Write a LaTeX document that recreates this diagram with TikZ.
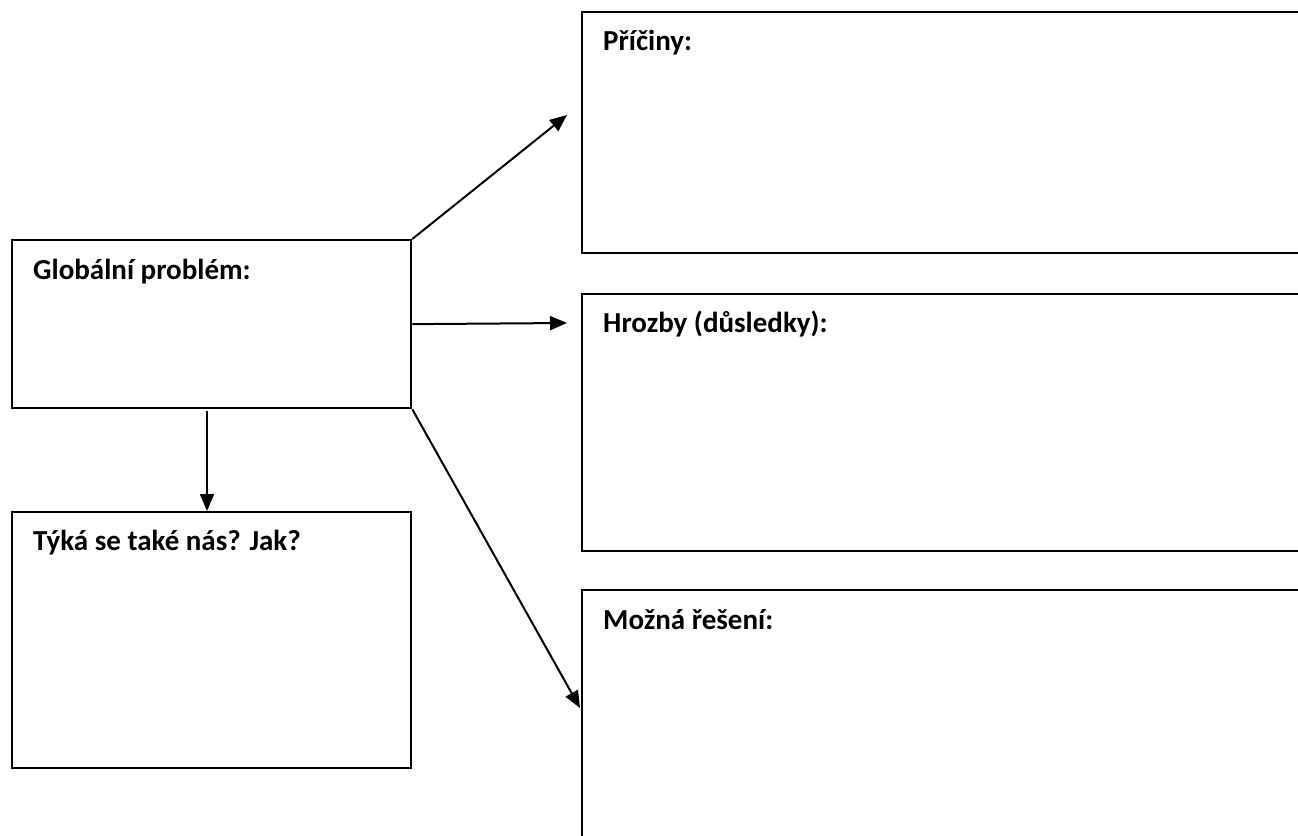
\documentclass[tikz,border=0pt]{standalone}
\usepackage{fontspec}
\setmainfont{Carlito}
\usetikzlibrary{arrows.meta}
\begin{document}
\begin{tikzpicture}[x=1bp,y=-1bp,
  box/.style={draw=black, line width=2.3bp, rectangle, anchor=north west, inner sep=0pt},
  lbl/.style={anchor=base west, inner sep=0pt, font=\fontsize{29bp}{34bp}\selectfont\bfseries},
  conn/.style={line width=2bp, -{Triangle[length=17bp,width=14bp]}}]
\useasboundingbox (0,0) rectangle (1298,836);
\clip (0,0) rectangle (1298,836);
\fill[white] (0,0) rectangle (1298,836);
% left boxes
\node[box, minimum width=399bp, minimum height=168bp] (g) at (11,239) {};
\node[box, minimum width=399bp, minimum height=256bp] (t) at (11,511) {};
% right boxes (cut at the right edge)
\node[box, minimum width=740bp, minimum height=241bp] (p) at (581,11) {};
\node[box, minimum width=740bp, minimum height=257bp] (h) at (581,293) {};
\node[box, minimum width=740bp, minimum height=280bp] (m) at (581,589) {};
% texts
\node[lbl] (gt) at (33,279) {Globální problém:};
\node[lbl] (tt) at (33,550) {Týká se také nás? Jak?};
\node[lbl] (pt) at (603,50) {Příčiny:};
\node[lbl] (ht) at (603,332) {Hrozby (důsledky):};
\node[lbl] (mt) at (603,629) {Možná řešení:};
% arrow ends
\coordinate (pe) at (567,115);
\coordinate (he) at (567,323);
\coordinate (me) at (580,708);
\coordinate (gs) at (207,411);
\coordinate (tn) at (207,511);
\draw[conn] (g.north east) -- (pe);
\draw[conn] (g.east) -- (he);
\draw[conn] (g.south east) -- (me);
\draw[conn] (gs) -- (tn);
\end{tikzpicture}
\end{document}
